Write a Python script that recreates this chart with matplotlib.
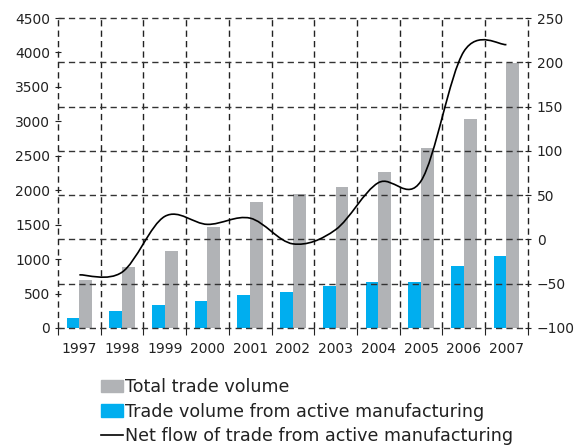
import matplotlib
matplotlib.use("Agg")
import matplotlib.pyplot as plt
import numpy as np
from matplotlib.path import Path
from matplotlib.patches import PathPatch, Patch
from matplotlib.lines import Line2D

years = ["1997", "1998", "1999", "2000", "2001", "2002",
         "2003", "2004", "2005", "2006", "2007"]
total_volume = [701, 880, 1112, 1460, 1822, 1940, 2049, 2267, 2615, 3035, 3842]
active_volume = [150, 251, 329, 387, 483, 527, 604, 672, 672, 904, 1049]
net_flow = [-40, -37, 26, 17, 24, -5, 11, 64, 66, 212, 220]

grey = "#b1b3b6"
blue = "#00aeef"
dash = (0, (4.5, 3))
plt.rcParams["lines.scale_dashes"] = False
plt.rcParams["font.family"] = ["DejaVu Sans"]

fig = plt.figure(figsize=(5.8, 4.46), dpi=100)
ax = fig.add_axes([0.1, 0.2646, 0.81, 0.695])
ax2 = ax.twinx()

x = np.arange(len(years))
w = 0.3
ax.bar(x - w / 2, active_volume, w, color=blue, zorder=1)
ax.bar(x + w / 2, total_volume, w, color=grey, zorder=1)

ax.set_xlim(-0.5, len(years) - 0.5)
ax.set_ylim(0, 4500)
ax.set_yticks(np.arange(0, 4501, 500))
ax2.set_ylim(-100, 250)
ax2.set_yticks(np.arange(-100, 251, 50))

# category boundaries get the ticks, centres get the labels
ax.set_xticks(np.arange(-0.5, len(years), 1))
ax.set_xticklabels([])
ax.set_xticks(x, minor=True)
ax.set_xticklabels(years, minor=True)
ax.tick_params(axis="x", which="major", direction="out", length=5,
               width=0.8, color="#222222")
ax.tick_params(axis="x", which="minor", length=0, pad=10,
               labelsize=10, labelcolor="#222222")
ax.tick_params(axis="y", direction="inout", length=5, width=0.8,
               color="#222222", labelsize=10, labelcolor="#222222", pad=3)
ax2.tick_params(axis="y", direction="inout", length=5, width=0.8,
                color="#222222", labelsize=10, labelcolor="#222222", pad=4)

ax.set_axisbelow(False)
ax.grid(axis="x", which="major", color="#222222", linewidth=1,
        linestyle=dash)
ax2.grid(axis="y", color="#333333", linewidth=1, linestyle=dash)
for gl in ax.get_xgridlines() + ax2.get_ygridlines():
    gl.set_clip_on(False)
for a in (ax, ax2):
    for s in a.spines.values():
        s.set_visible(False)

# smoothed line (Catmull-Rom as cubic Bezier)
pts = np.column_stack([x, net_flow]).astype(float)
ext = np.vstack([pts[0], pts, pts[-1]])
verts = [tuple(pts[0])]
codes = [Path.MOVETO]
for i in range(len(pts) - 1):
    p0, p1, p2, p3 = ext[i], ext[i + 1], ext[i + 2], ext[i + 3]
    c1 = p1 + (p2 - p0) / 6
    c2 = p2 - (p3 - p1) / 6
    verts += [tuple(c1), tuple(c2), tuple(p2)]
    codes += [Path.CURVE4] * 3
ax2.add_patch(PathPatch(Path(verts, codes), facecolor="none",
                        edgecolor="black", linewidth=1.2, zorder=3))

handles = [Patch(color=grey), Patch(color=blue),
           Line2D([], [], color="black", linewidth=1.2)]
labels = ["Total trade volume",
          "Trade volume from active manufacturing",
          "Net flow of trade from active manufacturing"]
fig.legend(handles, labels, loc="upper left",
           bbox_to_anchor=(0.174, 1 - 378 / 446), frameon=False,
           fontsize=12.6, handlelength=1.25, handletextpad=0.15,
           labelspacing=0.38, borderpad=0, borderaxespad=0,
           labelcolor="#222222")

fig.savefig("out.png", dpi=100)
